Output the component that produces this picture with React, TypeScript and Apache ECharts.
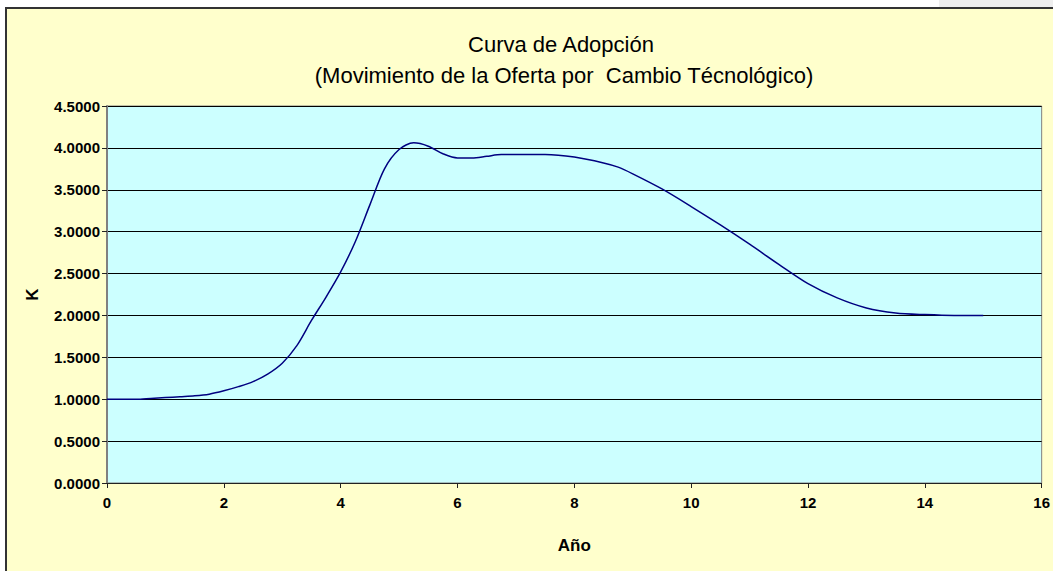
import React, { useEffect, useRef } from "react";
import * as echarts from "echarts";

const years: number[] = [
  0, 0.25, 0.5, 0.75, 1, 1.25, 1.5, 1.75, 2, 2.25, 2.5, 2.75, 3, 3.25, 3.5, 3.75,
  4, 4.25, 4.5, 4.75, 5, 5.25, 5.5, 5.75, 6, 6.25, 6.5, 6.75, 7, 7.5, 8, 8.5,
  8.75, 9, 9.5, 10, 10.5, 11, 11.5, 12, 12.5, 13, 13.5, 14, 14.5, 15,
];
const kValues: number[] = [
  1.0, 1.0, 1.0, 1.01, 1.02, 1.03, 1.04, 1.06, 1.1, 1.15, 1.21, 1.3, 1.43, 1.64, 1.94, 2.22,
  2.52, 2.88, 3.32, 3.75, 3.98, 4.06, 4.02, 3.93, 3.88, 3.88, 3.9, 3.92, 3.92, 3.92, 3.89, 3.82,
  3.77, 3.69, 3.51, 3.3, 3.08, 2.85, 2.61, 2.38, 2.21, 2.09, 2.03, 2.01, 2.0, 2.0,
];
const titleLine1 = "Curva de Adopción";
const titleLine2 = "(Movimiento de la Oferta por  Cambio Técnológico)";
const xAxisName = "Año";
const yAxisName = "K";

export default function App() {
  const ref = useRef<HTMLDivElement>(null);
  useEffect(() => {
    document.body.style.margin = "0";
    if (!ref.current) return;
    const chart = echarts.init(ref.current, undefined, { renderer: "svg" });
    const font = "Liberation Sans, Arial, sans-serif";
    chart.setOption({
      animation: false,
      backgroundColor: "transparent",
      graphic: [
        {
          type: "text",
          x: 561,
          y: 44,
          style: {
            text: titleLine1,
            fontFamily: font,
            fontSize: 22,
            fill: "#000",
            textAlign: "center",
            textVerticalAlign: "middle",
          },
        },
        {
          type: "text",
          x: 564,
          y: 75,
          style: {
            text: titleLine2,
            fontFamily: font,
            fontSize: 22,
            fill: "#000",
            textAlign: "center",
            textVerticalAlign: "middle",
          },
        },
      ],
      grid: {
        left: 107,
        top: 106,
        right: 10,
        bottom: 88,
        show: true,
        backgroundColor: "#CCFFFF",
        borderColor: "#808080",
        borderWidth: 1,
      },
      xAxis: {
        type: "value",
        min: 0,
        max: 16,
        interval: 2,
        name: xAxisName,
        nameLocation: "middle",
        nameGap: 54,
        nameTextStyle: { fontFamily: font, fontSize: 17, fontWeight: "bold", color: "#000" },
        axisLine: { show: true, lineStyle: { color: "#222", width: 1 } },
        axisTick: { show: true, length: 5, lineStyle: { color: "#222" } },
        axisLabel: { fontFamily: font, fontSize: 15, fontWeight: "bold", color: "#000", margin: 12 },
        splitLine: { show: false },
      },
      yAxis: {
        type: "value",
        min: 0,
        max: 4.5,
        interval: 0.5,
        name: yAxisName,
        nameLocation: "middle",
        nameGap: 66,
        nameRotate: 90,
        nameTextStyle: { fontFamily: font, fontSize: 17, fontWeight: "bold", color: "#000" },
        axisLine: { show: true, lineStyle: { color: "#808080", width: 2 } },
        axisTick: { show: true, length: 5, lineStyle: { color: "#222" } },
        axisLabel: {
          fontFamily: font,
          fontSize: 15,
          fontWeight: "bold",
          color: "#000",
          margin: 7,
          formatter: (v: number) => v.toFixed(4),
        },
        splitLine: { show: true, lineStyle: { color: "#000", width: 1 } },
      },
      series: [
        {
          type: "line",
          data: years.map((x, i) => [x, kValues[i]]),
          smooth: 0.3,
          showSymbol: false,
          lineStyle: { color: "#000080", width: 1.5 },
          itemStyle: { color: "#000080" },
        },
      ],
    });
    return () => chart.dispose();
  }, []);
  return (
    <div style={{ position: "relative", width: 1053, height: 571, background: "#fff", overflow: "hidden" }}>
      <div style={{ position: "absolute", left: 939, top: 0, width: 114, height: 7, background: "#EEEEEE" }} />
      <div
        style={{
          position: "absolute",
          left: 5,
          top: 7,
          width: 1100,
          height: 600,
          background: "#FFFFCC",
          borderLeft: "2px solid #333",
          borderTop: "2px solid #333",
        }}
      />
      <div ref={ref} style={{ position: "absolute", left: 0, top: 0, width: 1053, height: 571 }} />
    </div>
  );
}
